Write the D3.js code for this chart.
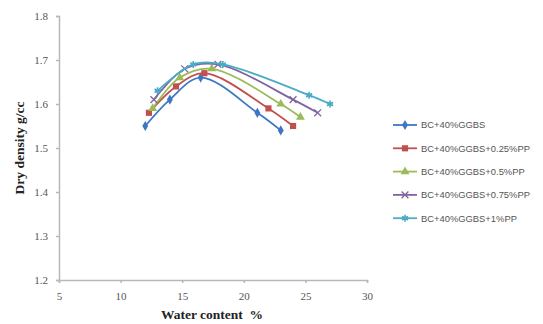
<html><head>
<script src="https://d3js.org/d3.v7.min.js"></script>
<style>
body { margin: 0; background: #fff; }
</style>
</head>
<body>
<svg id="chart" width="543" height="324"></svg>
<script>
// series
const seriesNames = ["BC+40%GGBS", "BC+40%GGBS+0.25%PP", "BC+40%GGBS+0.5%PP", "BC+40%GGBS+0.75%PP", "BC+40%GGBS+1%PP"];
const water0 = [12.0, 14.0, 16.5, 21.1, 23.0];
const dens0  = [1.55, 1.61, 1.66, 1.58, 1.54];
const water1 = [12.3, 14.5, 16.8, 22.0, 24.0];
const dens1  = [1.58, 1.64, 1.67, 1.59, 1.55];
const water2 = [12.6, 14.8, 17.4, 23.0, 24.6];
const dens2  = [1.59, 1.66, 1.68, 1.60, 1.57];
const water3 = [12.7, 15.2, 17.9, 24.0, 26.0];
const dens3  = [1.61, 1.68, 1.69, 1.61, 1.58];
const water4 = [13.0, 15.9, 18.3, 25.3, 27.0];
const dens4  = [1.63, 1.69, 1.69, 1.62, 1.60];
const xTicks = [5, 10, 15, 20, 25, 30];
const yTicks = [1.2, 1.3, 1.4, 1.5, 1.6, 1.7, 1.8];

const waters = [water0, water1, water2, water3, water4];
const denss = [dens0, dens1, dens2, dens3, dens4];
const colors = ["#3f76c4", "#c0504d", "#9bbb59", "#8064a2", "#4bacc6"];
const shapes = ["diamond", "square", "triangle", "x", "star"];

const svg = d3.select("#chart");
const x = d3.scaleLinear().domain([5, 30]).range([59, 367]);
const y = d3.scaleLinear().domain([1.2, 1.8]).range([280, 16]);

//axes
const xAxis = svg.append("g").attr("transform", "translate(0,280)")
    .call(d3.axisBottom(x).tickValues(xTicks).tickSize(3).tickPadding(9));
const yAxis = svg.append("g").attr("transform", "translate(59,0)")
    .call(d3.axisLeft(y).tickValues(yTicks).tickSize(3).tickPadding(8).tickFormat(d3.format(".1f")));
[xAxis, yAxis].forEach(a => {
    a.selectAll("path, line").attr("stroke", "#b8b8b8").attr("stroke-width", 1.5);
    a.selectAll("text").attr("fill", "#555").style("font-family", "Liberation Serif").style("font-size", "11px");
});

svg.append("text").attr("x", 212).attr("y", 319).attr("text-anchor", "middle")
    .style("font-family", "Liberation Serif").style("font-weight", "bold").style("font-size", "13.5px")
    .attr("fill", "#222").attr("xml:space", "preserve").text("Water content  %");
svg.append("text").attr("transform", "translate(24,148) rotate(-90)").attr("text-anchor", "middle")
    .style("font-family", "Liberation Serif").style("font-weight", "bold").style("font-size", "13.5px")
    .attr("fill", "#222").text("Dry density g/cc");

function marker(g, shape, color, cx, cy) {
    if (shape === "diamond") {
        g.append("path").attr("d", d3.symbol(d3.symbolDiamond, 30)()).attr("transform", `translate(${cx},${cy})`).attr("fill", color);
    } else if (shape === "square") {
        g.append("path").attr("d", d3.symbol(d3.symbolSquare, 38)()).attr("transform", `translate(${cx},${cy})`).attr("fill", color);
    } else if (shape === "triangle") {
        g.append("path").attr("d", d3.symbol(d3.symbolTriangle, 34)()).attr("transform", `translate(${cx},${cy})`).attr("fill", color);
    } else if (shape === "x") {
        g.append("path").attr("d", d3.symbol(d3.symbolX, 32)()).attr("transform", `translate(${cx},${cy})`)
            .attr("fill", "none").attr("stroke", color).attr("stroke-width", 1.3);
    } else {
        g.append("path").attr("d", d3.symbol(d3.symbolAsterisk, 34)()).attr("transform", `translate(${cx},${cy})`)
            .attr("fill", "none").attr("stroke", color).attr("stroke-width", 1.6);
        g.append("rect").attr("x", cx - 2.5).attr("y", cy - 1.5).attr("width", 5).attr("height", 3).attr("fill", color);
    }
}

const line = d3.line().x(d => x(d[0])).y(d => y(d[1])).curve(d3.curveCatmullRom.alpha(0.5));

seriesNames.forEach((name, i) => {
    const pts = waters[i].map((w, j) => [w, denss[i][j]]);
    const g = svg.append("g");
    g.append("path").attr("d", line(pts)).attr("fill", "none").attr("stroke", colors[i]).attr("stroke-width", 1.8);
    pts.forEach(p => marker(g, shapes[i], colors[i], x(p[0]), y(p[1])));

    //legend
    const ly = 125 + i * 23.3;
    const lg = svg.append("g");
    lg.append("line").attr("x1", 393).attr("x2", 417).attr("y1", ly).attr("y2", ly)
        .attr("stroke", colors[i]).attr("stroke-width", 1.8);
    marker(lg, shapes[i], colors[i], 405, ly);
    lg.append("text").attr("x", 421).attr("y", ly + 3.4).text(name)
        .style("font-family", "Liberation Sans").style("font-size", "9.4px").attr("fill", "#555");
});
</script>
</body>
</html>
